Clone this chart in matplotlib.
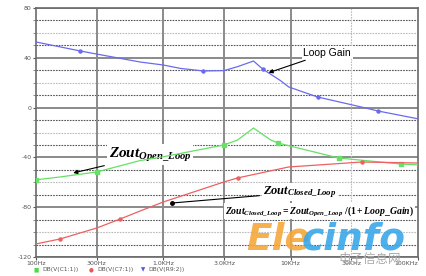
import matplotlib
matplotlib.use("Agg")
import matplotlib.pyplot as plt
import numpy as np

# ---- data ----
freq_loop = [100, 222, 300, 659, 1000, 1360, 2066, 3000, 3830, 5110, 6020, 8340, 9640, 16300, 37600, 48400, 100000]
loop_gain = [52.7, 45.5, 43.0, 36.6, 34.2, 31.5, 29.4, 29.7, 32.9, 37.4, 31.0, 21.6, 16.6, 8.5, 0.0, -2.7, -9.0]
loop_markers = [1, 6, 10, 13, 15]

freq_open = [100, 155, 300, 659, 1000, 3000, 3830, 5110, 6960, 7900, 23900, 73400, 100000]
zout_open = [-58.0, -55.7, -51.7, -42.5, -39.5, -30.0, -26.0, -16.4, -26.0, -28.4, -40.5, -45.3, -46.0]
open_markers = [0, 2, 5, 9, 10, 11]

freq_closed = [100, 155, 300, 458, 659, 1000, 3000, 3830, 9640, 36200, 100000]
zout_closed = [-109.5, -105.5, -96.7, -89.5, -83.0, -75.8, -59.7, -56.5, -47.7, -43.7, -44.5]
closed_markers = [1, 3, 7, 9]

x_ticks = [100, 300, 1000, 3000, 10000, 30000, 100000]
x_labels = ["100Hz", "300Hz", "1.0KHz", "3.0KHz", "10KHz", "30KHz", "100KHz"]
y_ticks = [-120, -80, -40, 0, 40, 80]
y_labels = ["-120", "-80", "-40", "0", "40", "80"]
legend_labels = ["DB(V(C1:1))", "DB(V(C7:1))", "DB(V(R9:2))"]

plt.rcParams['mathtext.fontset'] = 'custom'
plt.rcParams['mathtext.rm'] = 'Liberation Serif:bold'
plt.rcParams['mathtext.it'] = 'Liberation Serif:bold:italic'
plt.rcParams['mathtext.bf'] = 'Liberation Serif:bold'

fig = plt.figure(figsize=(4.27, 2.76), dpi=100)
ax = fig.add_axes([36/427, 1-257/276, 382/427, 249/276])
ax.set_xscale('log')
ax.set_xlim(100, 100000)
ax.set_ylim(-120, 80)

# grid
for yv in y_ticks:
    ax.axhline(yv, color='#8a8a8a', lw=1.4, zorder=1)
for yv in range(-110, 80, 10):
    if yv % 40 == 0:
        continue
    light = (yv % 40 == 20) or (yv % 40 == -20)
    ax.axhline(yv, color='#bbbbbb' if light else '#555555', lw=0.8,
               ls=(0, (1.5, 1.0)), zorder=1)
for xv in x_ticks[1:-1]:
    if xv == 30000:
        ax.axvline(xv, color='#bbbbbb', lw=0.8, ls=(0, (1.5, 1.0)), zorder=1)
    else:
        ax.axvline(xv, color='#8a8a8a', lw=1.4, zorder=1)

for sp in ax.spines.values():
    sp.set_color('#6a6a6a')
    sp.set_linewidth(1.2)

ax.set_xticks(x_ticks)
ax.set_xticklabels(x_labels)
ax.xaxis.set_minor_locator(matplotlib.ticker.NullLocator())
ax.set_yticks(y_ticks)
ax.set_yticklabels(y_labels)
ax.set_yticks(list(range(-110, 80, 10)), minor=True)
ax.tick_params(axis='both', which='major', labelsize=4.5, colors='#555555', length=2.5, pad=0.5)
ax.tick_params(axis='y', which='minor', length=2, color='#777777')
xl = ax.get_xticklabels()
xl[-1].set_ha('right')

# curves
ax.plot(freq_loop, loop_gain, color='#6a6aee', lw=0.9, zorder=6,
        marker='o', ms=2.2, markevery=loop_markers)
ax.plot(freq_open, zout_open, color='#66e066', lw=0.9, zorder=6,
        marker='s', ms=2.2, markevery=open_markers)
ax.plot(freq_closed, zout_closed, color='#ee6060', lw=0.9, zorder=6,
        marker='o', ms=2.2, markevery=closed_markers)

# watermark
ax.text(0.55, 0.03, "Ele", transform=ax.transAxes, fontsize=27, fontweight='bold',
        style='italic', color='#f5a83a', family='DejaVu Sans', zorder=7, alpha=0.9)
ax.text(0.695, 0.03, "cinfo", transform=ax.transAxes, fontsize=27, fontweight='bold',
        style='italic', color='#3aa8e8', family='DejaVu Sans', zorder=7, alpha=0.9)
fig.text(338/427, 1-259/276, "电子信息网", fontsize=9, color='#aaaaaa', style='italic',
         family=['Noto Sans CJK SC', 'DejaVu Sans'], va='center', zorder=8)

# annotations
ax.annotate("Loop Gain", xy=(6700, 28), xytext=(0.70, 0.82), textcoords='axes fraction',
            fontsize=7.5, color='black', family='Liberation Sans', ha='left', va='center',
            bbox=dict(boxstyle='square,pad=0.15', fc='white', ec='none'),
            arrowprops=dict(arrowstyle='-|>', color='black', lw=0.8, mutation_scale=6,
                            shrinkA=2, shrinkB=0), zorder=5)

ax.annotate(r"$Zout_{Open\_Loop}$", xy=(196, -52.5), xytext=(0.19, 0.41),
            textcoords='axes fraction', fontsize=11, ha='left', va='center',
            bbox=dict(boxstyle='square,pad=0.1', fc='white', ec='none'),
            arrowprops=dict(arrowstyle='-|>', color='black', lw=0.8, mutation_scale=6,
                            shrinkA=2, shrinkB=0), zorder=5)

dot_f, dot_v = 1180, -76.6
ax.plot([dot_f], [dot_v], 'o', color='black', ms=2.5, zorder=6)
ax.annotate(r"$Zout_{Closed\_Loop}$", xy=(dot_f, dot_v), xytext=(0.595, 0.26),
            textcoords='axes fraction', fontsize=9, ha='left', va='center',
            bbox=dict(boxstyle='square,pad=0.1', fc='white', ec='none'),
            arrowprops=dict(arrowstyle='-', color='black', lw=0.8, shrinkA=2, shrinkB=0),
            zorder=5)

ax.text(0.495, 0.185, r"$Zout_{Closed\_Loop} = Zout_{Open\_Loop}\ /(1 + Loop\_Gain)$",
        transform=ax.transAxes, fontsize=7, ha='left', va='center', zorder=8,
        bbox=dict(boxstyle='square,pad=0.1', fc='white', ec='none'))

# legend row
ly = 1 - 270/276
fig.text(36/427, ly, "■", color='#44dd44', fontsize=4, va='center', ha='center')
fig.text(42/427, ly, legend_labels[0], color='#555555', fontsize=4.3, va='center')
fig.text(91/427, ly, "●", color='#ee5555', fontsize=4, va='center', ha='center')
fig.text(97/427, ly, legend_labels[1], color='#555555', fontsize=4.3, va='center')
fig.text(143/427, ly, "▼", color='#5555ee', fontsize=4, va='center', ha='center')
fig.text(148/427, ly, legend_labels[2], color='#555555', fontsize=4.3, va='center')

fig.savefig("out.png", dpi=100, facecolor='white')
